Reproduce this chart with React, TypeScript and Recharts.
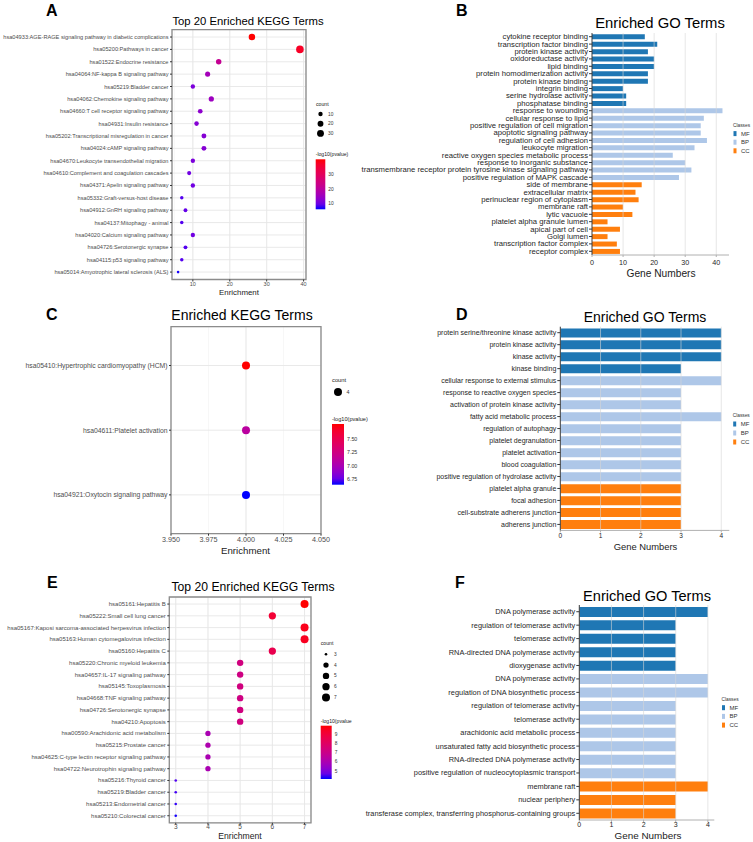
import React from "react";
import {
  Bar,
  BarChart,
  CartesianGrid,
  Cell,
  ReferenceArea,
  ReferenceLine,
  Scatter,
  ScatterChart,
  XAxis,
  YAxis,
} from "recharts";

const FONT = "'Liberation Sans', Arial, Helvetica, sans-serif";

// ---- Panel A: top 20 KEGG (dot plot) ----
const termsA = [
  "hsa04933:AGE-RAGE signaling pathway in diabetic complications",
  "hsa05200:Pathways in cancer",
  "hsa01522:Endocrine resistance",
  "hsa04064:NF-kappa B signaling pathway",
  "hsa05219:Bladder cancer",
  "hsa04062:Chemokine signaling pathway",
  "hsa04660:T cell receptor signaling pathway",
  "hsa04931:Insulin resistance",
  "hsa05202:Transcriptional misregulation in cancer",
  "hsa04024:cAMP signaling pathway",
  "hsa04670:Leukocyte transendothelial migration",
  "hsa04610:Complement and coagulation cascades",
  "hsa04371:Apelin signaling pathway",
  "hsa05332:Graft-versus-host disease",
  "hsa04912:GnRH signaling pathway",
  "hsa04137:Mitophagy - animal",
  "hsa04020:Calcium signaling pathway",
  "hsa04726:Serotonergic synapse",
  "hsa04115:p53 signaling pathway",
  "hsa05014:Amyotrophic lateral sclerosis (ALS)",
];
const enrichA = [26, 39, 17, 14, 10, 15, 12, 11, 13, 13, 10, 9, 10, 7, 8, 7, 10, 8, 7, 6];
const countA = [26, 39, 17, 14, 10, 15, 12, 11, 13, 13, 10, 9, 10, 7, 8, 7, 10, 8, 7, 6];
const logpA = [41, 38, 22, 16, 11, 15, 13, 12, 12, 12, 11, 10, 10, 8, 9, 8, 10, 8, 8, 6];
const ticksA = [10, 20, 30, 40];
const minorA = [5, 10, 15, 20, 25, 30, 35, 40];
const sizeKeysA = [10, 20, 30];
const colorKeysA = [10, 20, 30];

// ---- Panel C: KEGG (3 terms) ----
const termsC = [
  "hsa05410:Hypertrophic cardiomyopathy (HCM)",
  "hsa04611:Platelet activation",
  "hsa04921:Oxytocin signaling pathway",
];
const enrichC = [4, 4, 4];
const countC = [4, 4, 4];
const logpC = [7.77, 7.1, 6.65];
const ticksC = [3.95, 3.975, 4.0, 4.025, 4.05];
const minorC = [3.95, 3.9625, 3.975, 3.9875, 4.0, 4.0125, 4.025, 4.0375, 4.05];
const colorKeysC = [7.5, 7.25, 7.0, 6.75];

// ---- Panel E: top 20 KEGG ----
const termsE = [
  "hsa05161:Hepatitis B",
  "hsa05222:Small cell lung cancer",
  "hsa05167:Kaposi sarcoma-associated herpesvirus infection",
  "hsa05163:Human cytomegalovirus infection",
  "hsa05160:Hepatitis C",
  "hsa05220:Chronic myeloid leukemia",
  "hsa04657:IL-17 signaling pathway",
  "hsa05145:Toxoplasmosis",
  "hsa04668:TNF signaling pathway",
  "hsa04726:Serotonergic synapse",
  "hsa04210:Apoptosis",
  "hsa00590:Arachidonic acid metabolism",
  "hsa05215:Prostate cancer",
  "hsa04625:C-type lectin receptor signaling pathway",
  "hsa04722:Neurotrophin signaling pathway",
  "hsa05216:Thyroid cancer",
  "hsa05219:Bladder cancer",
  "hsa05213:Endometrial cancer",
  "hsa05210:Colorectal cancer",
];
const enrichE = [7, 6, 7, 7, 6, 5, 5, 5, 5, 5, 5, 4, 4, 4, 4, 3, 3, 3, 3];
const countE = [7, 6, 7, 7, 6, 5, 5, 5, 5, 5, 5, 4, 4, 4, 4, 3, 3, 3, 3];
const logpE = [9.9, 9.1, 9.6, 9.5, 8.5, 7.3, 7.2, 7.3, 7.2, 7.3, 7.3, 6.0, 6.1, 6.0, 6.0, 4.5, 4.4, 4.3, 4.2];
const ticksE = [3, 4, 5, 6, 7];
const minorE = [3, 3.5, 4, 4.5, 5, 5.5, 6, 6.5, 7];
const sizeKeysE = [3, 4, 5, 6, 7];
const colorKeysE = [9, 8, 7, 6, 5];

// ---- Panel B: GO terms ----
const termsB = [
  "cytokine receptor binding",
  "transcription factor binding",
  "protein kinase activity",
  "oxidoreductase activity",
  "lipid binding",
  "protein homodimerization activity",
  "protein kinase binding",
  "integrin binding",
  "serine hydrolase activity",
  "phosphatase binding",
  "response to wounding",
  "cellular response to lipid",
  "positive regulation of cell migration",
  "apoptotic signaling pathway",
  "regulation of cell adhesion",
  "leukocyte migration",
  "reactive oxygen species metabolic process",
  "response to inorganic substance",
  "transmembrane receptor protein tyrosine kinase signaling pathway",
  "positive regulation of MAPK cascade",
  "side of membrane",
  "extracellular matrix",
  "perinuclear region of cytoplasm",
  "membrane raft",
  "lytic vacuole",
  "platelet alpha granule lumen",
  "apical part of cell",
  "Golgi lumen",
  "transcription factor complex",
  "receptor complex",
];
const valuesB = [17, 21, 18, 20, 20, 18, 18, 10, 11, 11, 42, 36, 35, 35, 37, 33, 26, 30, 32, 28, 16, 14, 15, 10, 13, 5, 9, 5, 8, 9];
const classesB = [
  "MF", "MF", "MF", "MF", "MF", "MF", "MF", "MF", "MF", "MF",
  "BP", "BP", "BP", "BP", "BP", "BP", "BP", "BP", "BP", "BP",
  "CC", "CC", "CC", "CC", "CC", "CC", "CC", "CC", "CC", "CC",
];
const ticksB = [0, 10, 20, 30, 40];

// ---- Panel D: GO terms ----
const termsD = [
  "protein serine/threonine kinase activity",
  "protein kinase activity",
  "kinase activity",
  "kinase binding",
  "cellular response to external stimulus",
  "response to reactive oxygen species",
  "activation of protein kinase activity",
  "fatty acid metabolic process",
  "regulation of autophagy",
  "platelet degranulation",
  "platelet activation",
  "blood coagulation",
  "positive regulation of hydrolase activity",
  "platelet alpha granule",
  "focal adhesion",
  "cell-substrate adherens junction",
  "adherens junction",
];
const valuesD = [4, 4, 4, 3, 4, 3, 3, 4, 3, 3, 3, 3, 3, 3, 3, 3, 3];
const classesD = ["MF", "MF", "MF", "MF", "BP", "BP", "BP", "BP", "BP", "BP", "BP", "BP", "BP", "CC", "CC", "CC", "CC"];
const ticksD = [0, 1, 2, 3, 4];

// ---- Panel F: GO terms ----
const termsF = [
  "DNA polymerase activity",
  "regulation of telomerase activity",
  "telomerase activity",
  "RNA-directed DNA polymerase activity",
  "dioxygenase activity",
  "DNA polymerase activity",
  "regulation of DNA biosynthetic process",
  "regulation of telomerase activity",
  "telomerase activity",
  "arachidonic acid metabolic process",
  "unsaturated fatty acid biosynthetic process",
  "RNA-directed DNA polymerase activity",
  "positive regulation of nucleocytoplasmic transport",
  "membrane raft",
  "nuclear periphery",
  "transferase complex, transferring phosphorus-containing groups",
];
const valuesF = [4, 3, 3, 3, 3, 4, 4, 3, 3, 3, 3, 3, 3, 4, 3, 3];
const classesF = ["MF", "MF", "MF", "MF", "MF", "BP", "BP", "BP", "BP", "BP", "BP", "BP", "BP", "CC", "CC", "CC"];
const ticksF = [0, 1, 2, 3, 4];

const classNames = ["MF", "BP", "CC"];
const CLASS_COLORS: Record<string, string> = { MF: "#1f77b4", BP: "#aec7e8", CC: "#ff7f0e" };

// blue -> red in CIELAB, like ggplot's scale_colour_gradient
const LAB_LO = [32.3, 79.19, -107.86];
const LAB_HI = [53.24, 80.09, 67.2];
function gradColor(v: number, lo: number, hi: number) {
  const t = Math.max(0, Math.min(1, (v - lo) / (hi - lo)));
  const L = LAB_LO[0] + (LAB_HI[0] - LAB_LO[0]) * t;
  const a = LAB_LO[1] + (LAB_HI[1] - LAB_LO[1]) * t;
  const b = LAB_LO[2] + (LAB_HI[2] - LAB_LO[2]) * t;
  const fy = (L + 16) / 116;
  const fx = fy + a / 500;
  const fz = fy - b / 200;
  const finv = (f: number) => (f > 6 / 29 ? f * f * f : 3 * (6 / 29) ** 2 * (f - 4 / 29));
  const X = 0.95047 * finv(fx);
  const Y = finv(fy);
  const Z = 1.08883 * finv(fz);
  const lin = [
    3.2406 * X - 1.5372 * Y - 0.4986 * Z,
    -0.9689 * X + 1.8758 * Y + 0.0415 * Z,
    0.0557 * X - 0.204 * Y + 1.057 * Z,
  ];
  const g = (u: number) => {
    const c = Math.max(0, Math.min(1, u));
    return Math.round(255 * (c <= 0.0031308 ? 12.92 * c : 1.055 * Math.pow(c, 1 / 2.4) - 0.055));
  };
  return `rgb(${g(lin[0])},${g(lin[1])},${g(lin[2])})`;
}

// ggplot area_pal style sizing
function dotRadius(c: number, cmin: number, cmax: number, rmin: number, rmax: number) {
  if (cmax === cmin) return (rmin + rmax) / 2;
  const t = Math.max(0, Math.min(1, (c - cmin) / (cmax - cmin)));
  return rmin + (rmax - rmin) * Math.sqrt(t);
}

type Box = { left: number; top: number; width: number; height: number };
type Margin = { top: number; right: number; bottom: number; left: number };

type DotProps = {
  box: Box;
  margin: Margin;
  yw: number;
  xh: number;
  terms: string[];
  enrich: number[];
  count: number[];
  logp: number[];
  xDomain: [number, number];
  xTicks: number[];
  xMinor: number[];
  xFmt?: (v: number) => string;
  labelFont: number;
  tickFont: number;
  tickMargin: number;
  size: [number, number, number, number];
  color: [number, number];
};

function DotPanel(p: DotProps) {
  const data = p.terms.map((t, i) => ({ row: i + 1, enrich: p.enrich[i], count: p.count[i], logp: p.logp[i] }));
  const rows = data.map((d) => d.row);
  const yDom: [number, number] = [0.4, p.terms.length + 0.6];
  const YTick = (props: any) => (
    <text
      x={props.x}
      y={props.y}
      textAnchor="end"
      dominantBaseline="central"
      fontSize={p.labelFont}
      fill="#4d4d4d"
      fontFamily={FONT}
    >
      {p.terms[props.payload.value - 1]}
    </text>
  );
  const Dot = (props: any) => {
    const d = props.payload;
    const r = dotRadius(d.count, p.size[0], p.size[1], p.size[2], p.size[3]);
    return <circle cx={props.cx} cy={props.cy} r={r} fill={gradColor(d.logp, p.color[0], p.color[1])} />;
  };
  return (
    <div style={{ position: "absolute", ...p.box }}>
      <ScatterChart width={p.box.width} height={p.box.height} margin={p.margin}>
        <XAxis xAxisId="minor" type="number" dataKey="enrich" domain={p.xDomain} ticks={p.xMinor} allowDataOverflow hide />
        <CartesianGrid xAxisId="minor" horizontal={false} stroke="#f2f2f2" strokeWidth={0.6} />
        <CartesianGrid stroke="#e6e6e6" strokeWidth={0.9} />
        <XAxis
          type="number"
          dataKey="enrich"
          domain={p.xDomain}
          ticks={p.xTicks}
          allowDataOverflow
          height={p.xh}
          axisLine={false}
          tickSize={2}
          tickMargin={p.tickMargin}
          tickLine={{ stroke: "#333" }}
          tick={{ fontSize: p.tickFont, fill: "#4d4d4d", fontFamily: FONT }}
          tickFormatter={p.xFmt}
        />
        <YAxis
          type="number"
          dataKey="row"
          domain={yDom}
          ticks={rows}
          reversed
          interval={0}
          allowDataOverflow
          width={p.yw}
          axisLine={false}
          tickSize={2}
          tickMargin={1.5}
          tickLine={{ stroke: "#333" }}
          tick={YTick}
        />
        <Scatter data={data} shape={Dot} isAnimationActive={false} />
        <ReferenceArea
          x1={p.xDomain[0]}
          x2={p.xDomain[1]}
          y1={yDom[0]}
          y2={yDom[1]}
          fill="none"
          stroke="#8c8c8c"
          strokeWidth={1.3}
          ifOverflow="visible"
        />
      </ScatterChart>
    </div>
  );
}

type BarProps = {
  box: Box;
  margin: Margin;
  yw: number;
  xh: number;
  terms: string[];
  values: number[];
  classes: string[];
  xDomain: [number, number];
  xTicks: number[];
  labelFont: number;
  tickFont: number;
  tickMargin: number;
  gap: string;
};

function BarPanel(p: BarProps) {
  const data = p.terms.map((t, i) => ({ key: String(i), value: p.values[i], cls: p.classes[i] }));
  const YTick = (props: any) => (
    <text
      x={props.x}
      y={props.y}
      textAnchor="end"
      dominantBaseline="central"
      fontSize={p.labelFont}
      fill="#262626"
      fontFamily={FONT}
    >
      {p.terms[Number(props.payload.value)]}
    </text>
  );
  return (
    <div style={{ position: "absolute", ...p.box }}>
      <BarChart
        width={p.box.width}
        height={p.box.height}
        data={data}
        layout="vertical"
        margin={p.margin}
        barCategoryGap={p.gap}
      >
        <XAxis
          type="number"
          domain={p.xDomain}
          ticks={p.xTicks}
          allowDataOverflow
          height={p.xh}
          axisLine={{ stroke: "#b0b0b0" }}
          tickLine={{ stroke: "#b0b0b0" }}
          tickSize={2}
          tickMargin={p.tickMargin}
          tick={{ fontSize: p.tickFont, fill: "#262626", fontFamily: FONT }}
        />
        <YAxis
          type="category"
          dataKey="key"
          width={p.yw}
          interval={0}
          axisLine={{ stroke: "#3a3a3a" }}
          tickLine={{ stroke: "#3a3a3a" }}
          tickSize={3}
          tickMargin={1}
          tick={YTick}
        />
        <Bar dataKey="value" isAnimationActive={false}>
          {data.map((d) => (
            <Cell key={d.key} fill={CLASS_COLORS[d.cls]} />
          ))}
        </Bar>
        {p.xTicks
          .filter((v) => v > 0)
          .map((v) => (
            <ReferenceLine key={v} x={v} stroke="#d6d6d6" strokeOpacity={0.6} strokeWidth={1} />
          ))}
      </BarChart>
    </div>
  );
}

function ColorBar(props: {
  id: string;
  x: number;
  y: number;
  w: number;
  h: number;
  lo: number;
  hi: number;
  keys: number[];
  fmt: (v: number) => string;
  font: number;
  title: string;
}) {
  const { id, x, y, w, h, lo, hi, keys } = props;
  const stops = Array.from({ length: 11 }, (_, i) => i / 10);
  return (
    <g>
      <defs>
        <linearGradient id={id} x1="0" y1="1" x2="0" y2="0">
          {stops.map((s) => (
            <stop key={s} offset={s} stopColor={gradColor(lo + (hi - lo) * s, lo, hi)} />
          ))}
        </linearGradient>
      </defs>
      <text x={x} y={y - 5} fontSize={props.font + 0.3} fill="#222" dominantBaseline="central">
        {props.title}
      </text>
      <rect x={x} y={y} width={w} height={h} fill={`url(#${id})`} />
      {keys.map((k) => {
        const ky = y + h - ((k - lo) / (hi - lo)) * h;
        return (
          <text key={k} x={x + w + 3} y={ky} fontSize={props.font} fill="#333" dominantBaseline="central">
            {props.fmt(k)}
          </text>
        );
      })}
    </g>
  );
}

function ClassLegend(props: { x: number; y: number; step: number }) {
  const { x, y, step } = props;
  return (
    <g>
      <text x={x} y={y} fontSize={4.8} fill="#333" dominantBaseline="central">
        Classes
      </text>
      {classNames.map((c, i) => (
        <g key={c}>
          <rect x={x + 0.5} y={y + step * (i + 1) - 2.5} width={3} height={5} fill={CLASS_COLORS[c]} />
          <text x={x + 8} y={y + step * (i + 1)} fontSize={6} fill="#333" dominantBaseline="central">
            {c}
          </text>
        </g>
      ))}
    </g>
  );
}

function Overlay() {
  const letter = { fontSize: 16, fontWeight: 900, fill: "#000" } as const;
  const sizeA = (c: number) => dotRadius(c, 6, 39, 1.3, 3.8);
  const sizeE = (c: number) => dotRadius(c, 3, 7, 1.3, 4);
  return (
    <svg
      width={753}
      height={842}
      style={{ position: "absolute", left: 0, top: 0, pointerEvents: "none" }}
      fontFamily={FONT}
    >
      <text x={46} y={16} {...letter}>A</text>
      <text x={456} y={16} {...letter}>B</text>
      <text x={46} y={320} {...letter}>C</text>
      <text x={456} y={320} {...letter}>D</text>
      <text x={47} y={588} {...letter}>E</text>
      <text x={455} y={588} {...letter}>F</text>

      <text x={248} y={21} fontSize={11.3} textAnchor="middle" dominantBaseline="central">Top 20 Enriched KEGG Terms</text>
      <text x={242} y={314.5} fontSize={14} textAnchor="middle" dominantBaseline="central">Enriched KEGG Terms</text>
      <text x={253} y={587} fontSize={12.2} textAnchor="middle" dominantBaseline="central">Top 20 Enriched KEGG Terms</text>
      <text x={660} y={23} fontSize={14.8} textAnchor="middle" dominantBaseline="central">Enriched GO Terms</text>
      <text x={645} y={317} fontSize={14} textAnchor="middle" dominantBaseline="central">Enriched GO Terms</text>
      <text x={647} y={595.5} fontSize={14.6} textAnchor="middle" dominantBaseline="central">Enriched GO Terms</text>

      <text x={239} y={292.5} fontSize={7.9} fill="#222" textAnchor="middle" dominantBaseline="central">Enrichment</text>
      <text x={245.5} y={550} fontSize={9.7} fill="#222" textAnchor="middle" dominantBaseline="central">Enrichment</text>
      <text x={240} y={836} fontSize={8.6} fill="#222" textAnchor="middle" dominantBaseline="central">Enrichment</text>
      <text x={661} y={273} fontSize={10.2} fill="#222" textAnchor="middle" dominantBaseline="central">Gene Numbers</text>
      <text x={645.5} y={546} fontSize={9.4} fill="#222" textAnchor="middle" dominantBaseline="central">Gene Numbers</text>
      <text x={648} y={835.5} fontSize={9.9} fill="#222" textAnchor="middle" dominantBaseline="central">Gene Numbers</text>

      {/* A legends */}
      <text x={316} y={104} fontSize={5.2} fill="#222" dominantBaseline="central">count</text>
      {sizeKeysA.map((c, i) => (
        <g key={c}>
          <circle cx={320.5} cy={114 + i * 9.7} r={sizeA(c)} fill="#000" />
          <text x={328} y={114 + i * 9.7} fontSize={4.8} fill="#333" dominantBaseline="central">{c}</text>
        </g>
      ))}
      <ColorBar id="cbA" x={315.7} y={159.3} w={9.6} h={50} lo={5.8} hi={41} keys={colorKeysA} fmt={(v) => String(v)} font={4.8} title="-log10(pvalue)" />

      {/* C legends */}
      <text x={332} y={379.5} fontSize={5.8} fill="#222" dominantBaseline="central">count</text>
      <circle cx={338} cy={392} r={4} fill="#000" />
      <text x={346.5} y={392} fontSize={5.3} fill="#333" dominantBaseline="central">4</text>
      <ColorBar id="cbC" x={332} y={424} w={12} h={60.7} lo={6.65} hi={7.77} keys={colorKeysC} fmt={(v) => v.toFixed(2)} font={5.3} title="-log10(pvalue)" />

      {/* E legends */}
      <text x={320.7} y={643.3} fontSize={5.2} fill="#222" dominantBaseline="central">count</text>
      {sizeKeysE.map((c, i) => (
        <g key={c}>
          <circle cx={326} cy={654.3 + i * 10.8} r={sizeE(c)} fill="#000" />
          <text x={334} y={654.3 + i * 10.8} fontSize={4.8} fill="#333" dominantBaseline="central">{c}</text>
        </g>
      ))}
      <ColorBar id="cbE" x={320.7} y={725.7} w={11} h={53.3} lo={4.17} hi={9.9} keys={colorKeysE} fmt={(v) => String(v)} font={4.8} title="-log10(pvalue" />

      <ClassLegend x={733} y={125} step={8.6} />
      <ClassLegend x={732.7} y={415} step={9} />
      <ClassLegend x={721.5} y={699} step={8.7} />
    </svg>
  );
}

export default function App() {
  return (
    <div
      style={{
        position: "absolute",
        left: 0,
        top: 0,
        width: 753,
        height: 842,
        background: "#fff",
        fontFamily: FONT,
        overflow: "hidden",
      }}
    >
      <DotPanel
        box={{ left: 0, top: 0, width: 340, height: 300 }}
        margin={{ top: 29.6, right: 34, bottom: 0.5, left: 0 }}
        yw={172}
        xh={20}
        terms={termsA}
        enrich={enrichA}
        count={countA}
        logp={logpA}
        xDomain={[4.35, 40.65]}
        xTicks={ticksA}
        xMinor={minorA}
        labelFont={5.65}
        tickFont={5.5}
        tickMargin={1}
        size={[6, 39, 1.3, 3.8]}
        color={[5.8, 41]}
      />
      <DotPanel
        box={{ left: 0, top: 300, width: 340, height: 250 }}
        margin={{ top: 26.7, right: 19, bottom: 0, left: 0 }}
        yw={171}
        xh={16.3}
        terms={termsC}
        enrich={enrichC}
        count={countC}
        logp={logpC}
        xDomain={[3.95, 4.05]}
        xTicks={ticksC}
        xMinor={minorC}
        xFmt={(v) => v.toFixed(3)}
        labelFont={6.8}
        tickFont={7.2}
        tickMargin={1.5}
        size={[4, 4, 4, 4]}
        color={[6.65, 7.77]}
      />
      <DotPanel
        box={{ left: 0, top: 560, width: 340, height: 282 }}
        margin={{ top: 37, right: 29, bottom: 3.2, left: 0 }}
        yw={169.3}
        xh={16}
        terms={termsE}
        enrich={enrichE}
        count={countE}
        logp={logpE}
        xDomain={[2.8, 7.2]}
        xTicks={ticksE}
        xMinor={minorE}
        labelFont={6.0}
        tickFont={6.5}
        tickMargin={0}
        size={[3, 7, 1.3, 4]}
        color={[4.17, 9.9]}
      />
      <BarPanel
        box={{ left: 340, top: 0, width: 413, height: 280 }}
        margin={{ top: 33, right: 24, bottom: 10, left: 0 }}
        yw={252}
        xh={15}
        terms={termsB}
        values={valuesB}
        classes={classesB}
        xDomain={[0, 44.1]}
        xTicks={ticksB}
        labelFont={7.7}
        tickFont={7.2}
        tickMargin={3}
        gap="18%"
      />
      <BarPanel
        box={{ left: 340, top: 280, width: 413, height: 280 }}
        margin={{ top: 46.7, right: 23.7, bottom: 15.6, left: 0 }}
        yw={220.3}
        xh={14}
        terms={termsD}
        values={valuesD}
        classes={classesD}
        xDomain={[0, 4.2]}
        xTicks={ticksD}
        labelFont={7}
        tickFont={6.5}
        tickMargin={0.5}
        gap="14%"
      />
      <BarPanel
        box={{ left: 340, top: 560, width: 413, height: 282 }}
        margin={{ top: 45, right: 38.7, bottom: 8, left: 0 }}
        yw={239.3}
        xh={14}
        terms={termsF}
        values={valuesF}
        classes={classesF}
        xDomain={[0, 4.2]}
        xTicks={ticksF}
        labelFont={7.4}
        tickFont={7}
        tickMargin={0}
        gap="14%"
      />
      <Overlay />
    </div>
  );
}
